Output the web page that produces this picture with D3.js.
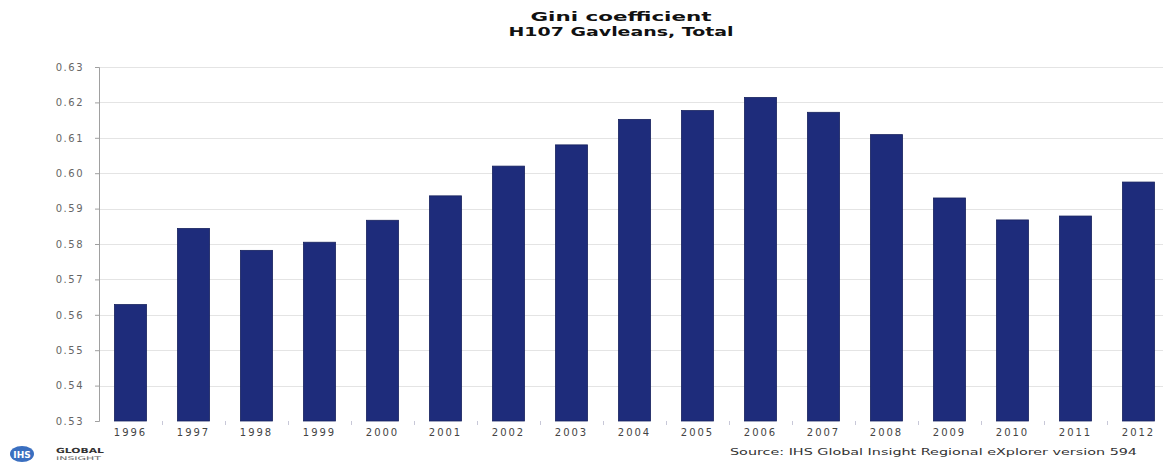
<!DOCTYPE html>
<html><head><meta charset="utf-8">
<script src="https://cdn.jsdelivr.net/npm/d3@7"></script>
<style>body{margin:0;background:#fff}svg{display:block}</style>
</head><body>
<script>
const years = ["1996","1997","1998","1999","2000","2001","2002","2003","2004","2005","2006","2007","2008","2009","2010","2011","2012"];
const gini = [0.5629,0.5844,0.5782,0.5805,0.5867,0.5936,0.6020,0.6080,0.6152,0.6177,0.6214,0.6172,0.6109,0.5930,0.5868,0.5879,0.5975];
const yTicks = [0.53,0.54,0.55,0.56,0.57,0.58,0.59,0.60,0.61,0.62,0.63];
const titleLines = ["Gini coefficient","H107 Gavleans, Total"];
const sourceText = "Source: IHS Global Insight Regional eXplorer version 594";

const W=1163,H=471;
const svg=d3.select("body").append("svg").attr("width",W).attr("height",H);
const x=d3.scaleBand().domain(years).range([99,1170]).paddingInner(0.49).paddingOuter(0.245);
const y=d3.scaleLinear().domain([0.53,0.63]).range([421,67]);

// gridlines
svg.append("g").selectAll("line").data(yTicks.slice(1)).join("line")
  .attr("x1",99).attr("x2",W).attr("y1",d=>Math.round(y(d))+0.5).attr("y2",d=>Math.round(y(d))+0.5)
  .attr("stroke","#e4e4e4").attr("stroke-width",1);

// y axis
const ya=svg.append("g").attr("transform","translate(99,0)")
  .call(d3.axisLeft(y).tickValues(yTicks).tickFormat(d3.format(".2f")).tickSize(4).tickPadding(11));
ya.select(".domain").attr("stroke","#a0a0a0");
ya.selectAll(".tick line").attr("stroke","#a0a0a0");
ya.selectAll("text").attr("fill","#666").style("font-family","DejaVu Sans").style("font-size","10px").attr("letter-spacing","1.5px");

// bars
svg.append("g").selectAll("rect").data(years).join("rect")
  .attr("x",d=>x(d)).attr("width",x.bandwidth())
  .attr("y",(d,i)=>y(gini[i])).attr("height",(d,i)=>y(0.53)-y(gini[i]))
  .attr("fill","#1e2c7b").attr("stroke","#18235f").attr("stroke-width",0.8);

// x axis
const xa=svg.append("g").attr("transform","translate(0,421)")
  .call(d3.axisBottom(x).tickSize(0).tickPadding(8));
xa.select(".domain").remove();
xa.selectAll("text").attr("fill","#444").style("font-family","DejaVu Sans").style("font-size","10px").attr("letter-spacing","2px");
// small category separators
svg.append("g").selectAll("line").data(years.slice(1)).join("line")
  .attr("x1",d=>x(d)-x.step()*0.245+0.5).attr("x2",d=>x(d)-x.step()*0.245+0.5)
  .attr("y1",421).attr("y2",425).attr("stroke","#c8c8d8");

// title
svg.append("g").selectAll("text").data(titleLines).join("text")
  .attr("x",621).attr("y",(d,i)=>21+i*15).attr("text-anchor","middle")
  .attr("textLength",(d,i)=>i===0?181:225).attr("lengthAdjust","spacingAndGlyphs")
  .style("font-family","DejaVu Sans").style("font-weight","bold").style("font-size","12px").attr("fill","#111")
  .text(d=>d);

// source
svg.append("text").attr("x",730).attr("y",455).attr("textLength",407).attr("lengthAdjust","spacingAndGlyphs")
  .style("font-family","DejaVu Sans").style("font-size","9px").attr("fill","#333").text(sourceText);

// logo
const lg=svg.append("g");
lg.append("ellipse").attr("cx",22).attr("cy",454).attr("rx",12).attr("ry",8).attr("fill","#3a6fc0");
lg.append("text").attr("x",22).attr("y",457.5).attr("text-anchor","middle").style("font-family","DejaVu Sans").style("font-weight","bold").style("font-size","9px").attr("fill","#fff").text("IHS");
lg.append("text").attr("x",56).attr("y",453).attr("textLength",48).attr("lengthAdjust","spacingAndGlyphs").style("font-family","DejaVu Sans").style("font-weight","bold").style("font-size","7px").attr("fill","#333").text("GLOBAL");
lg.append("text").attr("x",56).attr("y",460).attr("textLength",45).attr("lengthAdjust","spacingAndGlyphs").style("font-family","DejaVu Sans").style("font-size","5px").attr("fill","#666").text("INSIGHT");
</script>
</body></html>
